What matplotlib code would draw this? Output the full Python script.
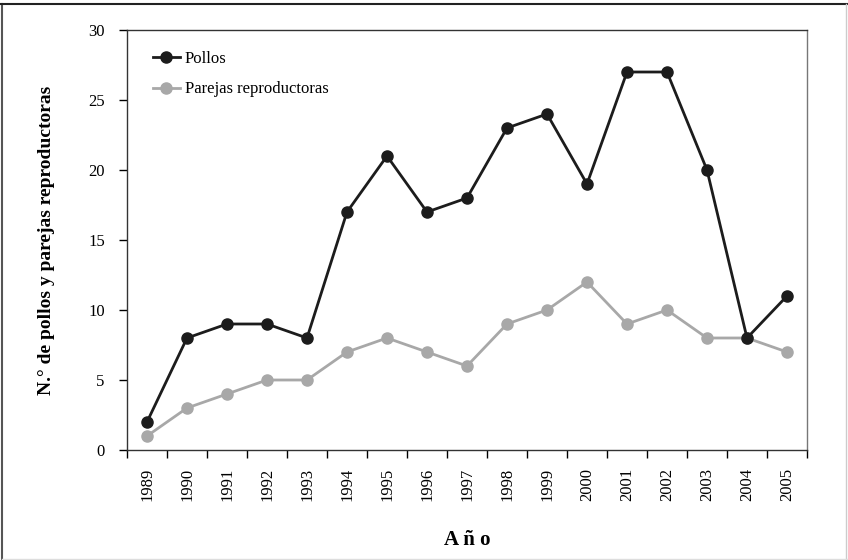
"""Pollos y parejas reproductoras por año."""
import numpy as np
import matplotlib
matplotlib.use("Agg")
import matplotlib.pyplot as plt  # noqa: E402
from matplotlib.lines import Line2D  # noqa: E402

years = ["1989", "1990", "1991", "1992", "1993", "1994", "1995", "1996", "1997",
         "1998", "1999", "2000", "2001", "2002", "2003", "2004", "2005"]
pollos = [2, 8, 9, 9, 8, 17, 21, 17, 18, 23, 24, 19, 27, 27, 20, 8, 11]
parejas = [1, 3, 4, 5, 5, 7, 8, 7, 6, 9, 10, 12, 9, 10, 8, 8, 7]
yticks = [0, 5, 10, 15, 20, 25, 30]

plt.rcParams["font.family"] = ["Liberation Serif", "DejaVu Serif"]
dark = "#1c1c1c"
grey = "#a8a8a8"

fig = plt.figure(figsize=(8.48, 5.6), dpi=100)
ax = fig.add_axes([127 / 848, 1 - 450 / 560, 680 / 848, 420 / 560])

x = np.arange(len(years))
ax.plot(x, parejas, color=grey, lw=2.0, marker="o", ms=8, mec=grey, mfc=grey,
        label="Parejas reproductoras", zorder=3)
ax.plot(x, pollos, color=dark, lw=2.0, marker="o", ms=8, mec=dark, mfc=dark,
        label="Pollos", zorder=4)

ax.set_xlim(-0.5, len(years) - 0.5)
ax.set_ylim(0, 30)
ax.set_yticks(yticks)
ax.set_yticklabels([str(v) for v in yticks], fontsize=12)
ax.set_xticks(np.arange(-0.5, len(years), 1.0))
ax.set_xticklabels([])
ax.set_xticks(x, minor=True)
ax.set_xticklabels(years, minor=True, rotation=90, fontsize=12)
ax.tick_params(axis="x", which="major", length=6, width=1, direction="out")
ax.tick_params(axis="x", which="minor", length=0, pad=13)
ax.tick_params(axis="y", length=6, width=1, pad=10)
for sp in ax.spines.values():
    sp.set_color("#333333")
    sp.set_linewidth(1.0)
ax.spines["right"].set_color("#777777")

ax.set_ylabel("N.° de pollos y parejas reproductoras", fontsize=14,
              fontweight="bold", labelpad=24)
fig.text(467 / 848, 1 - 540 / 560, "A ñ o", ha="center", va="center",
         fontsize=15, fontweight="bold")

handles = [Line2D([], [], color=dark, lw=2.0, marker="o", ms=8),
           Line2D([], [], color=grey, lw=2.0, marker="o", ms=8)]
ax.legend(handles, ["Pollos", "Parejas reproductoras"], loc="upper left",
          bbox_to_anchor=(0.016, 0.985), frameon=False, fontsize=12,
          handlelength=1.6, handletextpad=0.3, labelspacing=0.85)

# frame round the figure
fig.add_artist(Line2D([2 / 848, 2 / 848], [0, 1 - 4 / 560], color="#555555", lw=1.5))
fig.add_artist(Line2D([0, 1], [1 - 4 / 560, 1 - 4 / 560], color="#222222", lw=1.5))
fig.add_artist(Line2D([846 / 848, 846 / 848], [0, 1 - 4 / 560], color="#cccccc", lw=1.0))
fig.add_artist(Line2D([2 / 848, 1], [1.5 / 560, 1.5 / 560], color="#dddddd", lw=1.0))

fig.savefig("out.png", dpi=100)
plt.close(fig)
